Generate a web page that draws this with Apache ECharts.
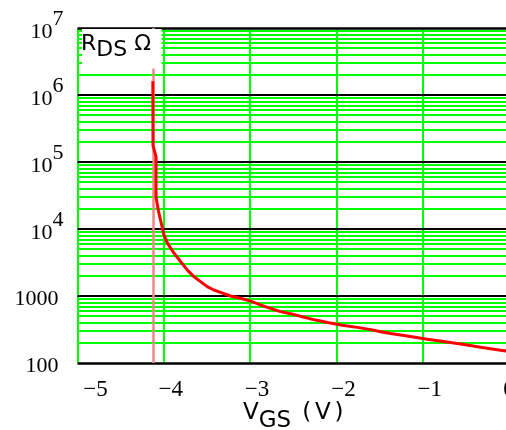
<!DOCTYPE html>
<html><head><meta charset="utf-8">
<script src="https://cdn.jsdelivr.net/npm/echarts@6/dist/echarts.min.js"></script>
<style>html,body{margin:0;padding:0;background:#fff}#c{width:506px;height:430px}</style>
</head><body><div id="c"></div>
<script>
// ---- data ----
const vgs = [-4.127,-4.125,-4.09,-4.09,-4.06,-4.025,-4.0,-3.96,-3.884,-3.806,-3.729,-3.652,-3.575,-3.497,-3.421,-3.343,-3.227,-3.111,-2.995,-2.88,-2.764,-2.648,-2.532,-2.396,-2.242,-2.088,-1.933,-1.759,-1.6,-1.489,-1.373,-1.161,-0.948,-0.736,-0.524,-0.31,-0.099,0];
const rds = [1600000,175000,120000,30000,18000,11500,8300,6200,4400,3270,2450,1950,1640,1380,1230,1135,1000,925,840,735,655,585,545,490,437,398,367,340,315,292,276,251,227,207,189,170,155,150];
const xTickValues = [-5,-4,-3,-2,-1,0];
const xTickLabels = ['−5','−4','−3','−2','−1','0'];
const yTickValues = [100,1000,1e4,1e5,1e6,1e7];
const yTickLabels = ['100','1000','10^4','10^5','10^6','10^7'];
const gateCutoff = -4.12;
const decadeExponents = [2,3,4,5,6];
const minorMultipliers = [2,3,4,5,6,7,8,9];

const minorValues = [];
decadeExponents.forEach(k => minorMultipliers.forEach(m => minorValues.push(m * Math.pow(10, k))));
const curve = vgs.map((x, i) => [x, rds[i]]);

const chart = echarts.init(document.getElementById('c'), null, {renderer: 'canvas'});
const serif = 'Liberation Serif';
const sans = 'DejaVu Sans';

chart.setOption({
  animation: false,
  backgroundColor: '#fff',
  grid: {left: 77.5, right: -3, top: 28, bottom: 67, containLabel: false, outerBoundsMode: 'none'},
  title: {
    text: '{r|R}{s|DS}{r| Ω}',
    left: 81, top: 33, padding: 0, z: 21,
    textStyle: {
      fontWeight: 'normal',
      rich: {
        r: {fontFamily: sans, fontSize: 22, fontWeight: 'normal', color: '#000', verticalAlign: 'top', padding: [0,0,6,0]},
        s: {fontFamily: sans, fontSize: 22, fontWeight: 'normal', color: '#000', verticalAlign: 'bottom'}
      }
    }
  },
  graphic: [{type: 'rect', shape: {x: 82, y: 29, width: 79.5, height: 39.5}, style: {fill: '#fff'}, z: 20, silent: true}],
  xAxis: {
    type: 'value', min: -5, max: 0, interval: 1,
    axisLine: {show: false}, axisTick: {show: false},
    splitLine: {show: true, lineStyle: {color: '#00ff00', width: 2}},
    axisLabel: {
      margin: 15,
      formatter: function (v) {
        const i = xTickValues.indexOf(v);
        const t = i >= 0 ? xTickLabels[i] : String(v);
        const st = v === -5 ? 'f' : (v === 0 ? 'z' : 'n');
        return '{' + st + '|' + t + '}';
      },
      rich: {
        f: {fontFamily: serif, fontSize: 23, color: '#000', padding: [0,0,0,36]},
        n: {fontFamily: serif, fontSize: 23, color: '#000', padding: [0,0,0,14]},
        z: {fontFamily: serif, fontSize: 23, color: '#000'}
      }
    },
    name: '{v|V}{s|GS}{v|\u2006 (\u2006V\u2006)}',
    nameLocation: 'middle', nameGap: 39, nameMoveOverlap: false,
    nameTextStyle: {
      rich: {
        v: {fontFamily: sans, fontSize: 23, color: '#000', verticalAlign: 'top', padding: [0,0,8,0]},
        s: {fontFamily: sans, fontSize: 23, color: '#000', verticalAlign: 'bottom'}
      }
    }
  },
  yAxis: {
    type: 'log', logBase: 10, min: 100, max: 1e7, splitNumber: 5, z: 7,
    axisLine: {show: true, lineStyle: {color: '#000', width: 2.5}},
    axisTick: {show: false},
    splitLine: {show: false},
    axisLabel: {
      margin: 14,
      formatter: function (v) {
        let i = yTickValues.findIndex(t => Math.abs(t - v) / t < 1e-6);
        const t = i >= 0 ? yTickLabels[i] : String(v);
        if (t.indexOf('^') >= 0) {
          const p = t.split('^');
          return '{b|' + p[0] + '}{e|' + p[1] + '}';
        }
        return '{p|' + t + '}';
      },
      rich: {
        p: {fontFamily: serif, fontSize: 22, color: '#000', padding: [7,5,0,0]},
        b: {fontFamily: serif, fontSize: 22, color: '#000', verticalAlign: 'bottom', padding: [0,0,4.5,0]},
        e: {fontFamily: serif, fontSize: 22, color: '#000', verticalAlign: 'top', padding: [0,0,17,0]}
      }
    }
  },
  series: [
    {
      type: 'line', data: [], z: 3, silent: true,
      markLine: {
        z: 3, silent: true, symbol: ['none','none'], label: {show: false}, animation: false,
        emphasis: {disabled: true},
        lineStyle: {color: '#00ff00', width: 2, type: 'solid'},
        data: minorValues.map(v => ({yAxis: v}))
      }
    },
    {
      type: 'line', data: [], z: 4, silent: true,
      markLine: {
        z: 4, silent: true, symbol: ['none','none'], label: {show: false}, animation: false,
        emphasis: {disabled: true},
        lineStyle: {color: '#000', width: 2, type: 'solid'},
        data: yTickValues.map((v, i) => ({yAxis: v, lineStyle: {color: '#000', type: 'solid', width: (i === 0 || i === yTickValues.length - 1) ? 2.5 : 2}}))
      }
    },
    {
      type: 'line', data: [], z: 5, silent: true,
      markLine: {
        z: 5, silent: true, symbol: ['none','none'], label: {show: false}, animation: false,
        emphasis: {disabled: true},
        lineStyle: {color: '#f08888', width: 2.5, type: 'solid'},
        data: [{xAxis: gateCutoff}]
      }
    },
    {
      type: 'line', data: curve, z: 6, showSymbol: false, silent: true,
      lineStyle: {color: '#ff0000', width: 3},
      clip: true
    }
  ]
});
</script></body></html>
